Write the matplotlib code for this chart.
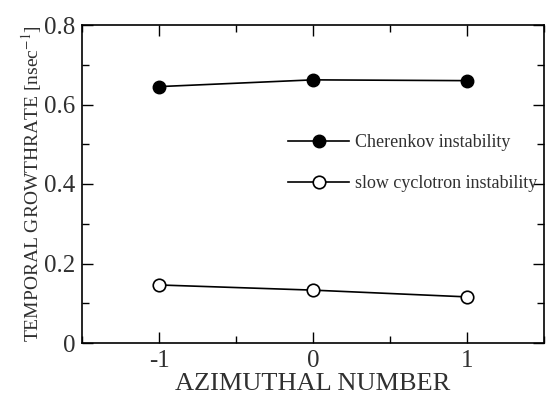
import matplotlib
matplotlib.use("Agg")
import matplotlib.pyplot as plt
from matplotlib.ticker import MultipleLocator

azimuthal = [-1, 0, 1]
cherenkov = [0.645, 0.662, 0.660]
slow_cyclotron = [0.146, 0.133, 0.116]

plt.rcParams['font.family'] = ['Liberation Serif', 'DejaVu Serif']
plt.rcParams['mathtext.fontset'] = 'stix'
txt = '#303030'

fig = plt.figure(figsize=(5.47, 4.01), dpi=100)
ax = fig.add_axes([82/547, 1 - 343/401, (544 - 82)/547, (343 - 25)/401])

ax.plot(azimuthal, cherenkov, '-', color='black', lw=1.2, marker='o', ms=9,
        mfc='black', mec='black', label='Cherenkov instability')
ax.plot(azimuthal, slow_cyclotron, '-', color='black', lw=1.2, marker='o', ms=9,
        mfc='white', mec='black', mew=1.2, label='slow cyclotron instability')

ax.set_xlim(-1.5, 1.5)
ax.set_ylim(0, 0.8)
ax.xaxis.set_minor_locator(MultipleLocator(0.5))
ax.yaxis.set_minor_locator(MultipleLocator(0.1))
ax.set_yticks([0, 0.2, 0.4, 0.6, 0.8])
ax.set_yticklabels(['0', '0.2', '0.4', '0.6', '0.8'])
ax.set_xticks([-1, 0, 1])
ax.set_xticklabels(['-1', '0', '1'])

ax.tick_params(which='both', direction='in', top=True, right=True,
               labelsize=18, labelcolor=txt, width=1, color='black')
ax.tick_params(which='major', length=8, pad=5)
ax.tick_params(which='minor', length=5)
for s in ax.spines.values():
    s.set_linewidth(1.2)

ax.set_xlabel('AZIMUTHAL NUMBER', fontsize=19, color=txt, labelpad=1)
ax.set_ylabel(r'TEMPORAL GROWTHRATE [nsec$^{-1}$]', fontsize=14, color=txt, labelpad=0)

leg = ax.legend(loc='upper left', bbox_to_anchor=(0.43, 0.68), frameon=False,
                fontsize=13, handlelength=3.4, handletextpad=0.3,
                labelspacing=1.35, borderaxespad=0)
for t in leg.get_texts():
    t.set_color(txt)

fig.savefig('out.png', dpi=100)
